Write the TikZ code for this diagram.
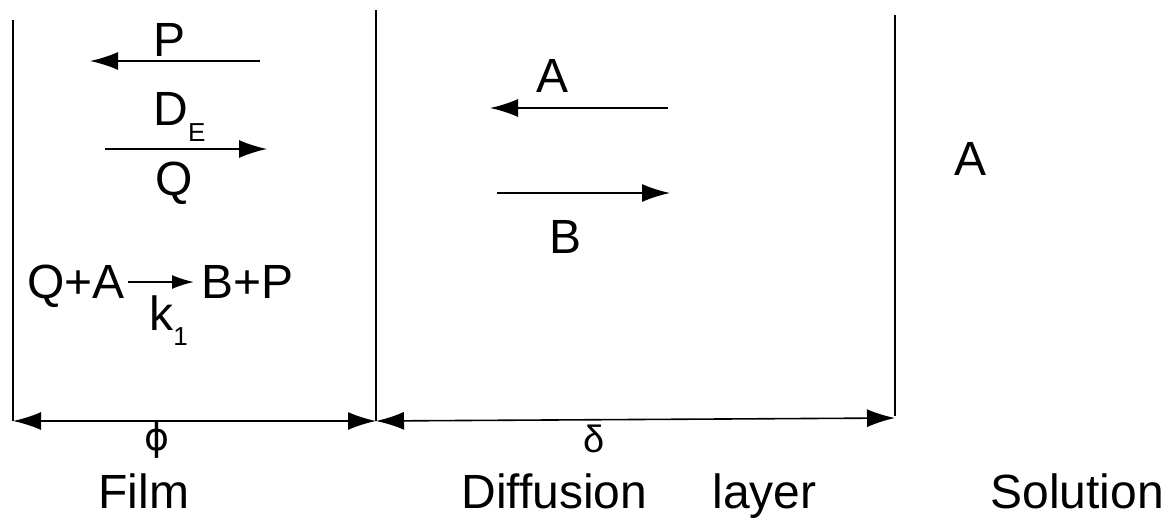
\documentclass[tikz,border=0pt]{standalone}
\usepackage{fontspec}
\setmainfont{Liberation Sans}
\newfontfamily\dvs{DejaVu Sans}
\usetikzlibrary{arrows.meta}
\tikzset{
  wall/.style={line width=1pt, black},
  flux/.style={line width=0.8pt, -{Latex[length=14pt,width=9pt]}},
  dim/.style={line width=0.8pt, {Latex[length=14pt,width=9pt]}-{Latex[length=14pt,width=9pt]}},
  lbl/.style={inner sep=0pt, font=\fontsize{24}{24}\selectfont},
  greek/.style={inner sep=0pt, font=\fontsize{19}{19}\selectfont},
  captext/.style={inner sep=0pt, font=\fontsize{24}{24}\selectfont},
}
\begin{document}
\begin{tikzpicture}[x=0.5pt,y=-0.5pt]
\useasboundingbox (0,0) rectangle (1171,524);
% walls
\coordinate (w1t) at (13,20);  \coordinate (w1b) at (13,421);
\coordinate (w2t) at (376,10); \coordinate (w2b) at (376,421);
\coordinate (w3t) at (895,15); \coordinate (w3b) at (895,416);
\draw[wall] (w1t) -- (w1b);
\draw[wall] (w2t) -- (w2b);
\draw[wall] (w3t) -- (w3b);
% dimension arrows
\coordinate (d1) at (13,421); \coordinate (d2) at (376,421); \coordinate (d3) at (895,418);
\draw[dim] (d1) -- (d2);
\draw[dim] (d2) -- (d3);
\node[greek] (phi) at (157,440) {\dvs ϕ};
\node[greek] (delta) at (594,439) {δ};
% film
\node[lbl, anchor=base] (P) at (170,57) {P};
\coordinate (pS) at (260,61); \coordinate (pE) at (90,61);
\draw[flux] (pS) -- (pE);
\node[lbl, anchor=base west] (DE) at (153,126) {D\raisebox{-0.6ex}{\fontsize{13}{13}\selectfont E}};
\coordinate (qS) at (105,149); \coordinate (qE) at (267,149);
\draw[flux] (qS) -- (qE);
\node[lbl, anchor=base] (Q) at (174,195) {Q};
\node[lbl, anchor=base east] (QA) at (125,298) {Q+A};
\node[lbl, anchor=base west] (BP) at (201,298) {B+P};
\coordinate (rS) at (128,282); \coordinate (rE) at (194,282);
\draw[line width=0.8pt, -{Latex[length=11pt,width=7pt]}] (rS) -- (rE);
\node[lbl, anchor=base west] (k1) at (149,330) {k\raisebox{-0.6ex}{\fontsize{13}{13}\selectfont 1}};
% diffusion layer
\node[lbl, anchor=base] (A1) at (552,93) {A};
\coordinate (aS) at (668,108); \coordinate (aE) at (490,108);
\draw[flux] (aS) -- (aE);
\coordinate (bS) at (497,193); \coordinate (bE) at (670,193);
\draw[flux] (bS) -- (bE);
\node[lbl, anchor=base] (B) at (565,253) {B};
% solution
\node[lbl, anchor=base] (A2) at (970,175) {A};
% captions
\node[captext, anchor=base west] (film) at (98,508) {Film};
\node[captext, anchor=base west] (diff) at (461,508) {Diffusion};
\node[captext, anchor=base west] (layer) at (712,508) {layer};
\node[captext, anchor=base west] (sol) at (990,508) {Solution};
\end{tikzpicture}
\end{document}
